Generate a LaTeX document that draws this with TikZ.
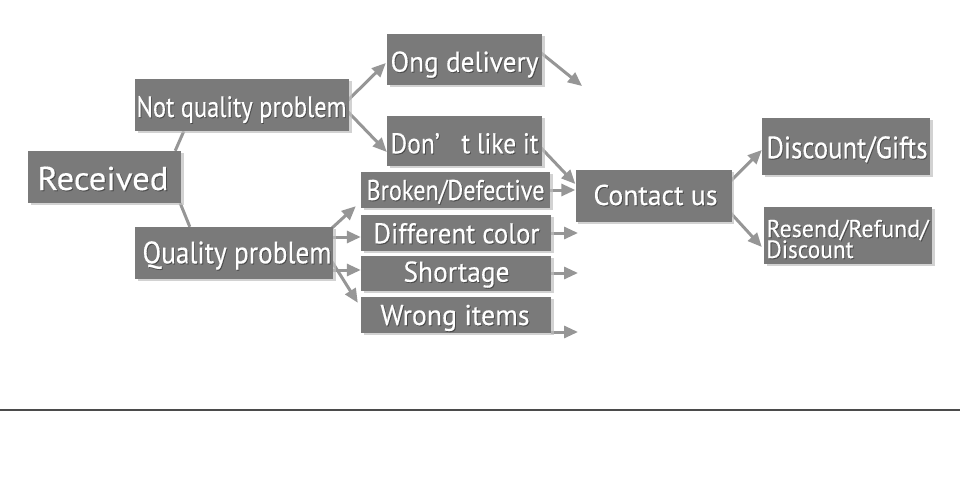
\documentclass[tikz,border=0pt]{standalone}
\usepackage{fontspec}
\setmainfont{PT Sans}[FakeBold=0.35]
\usepackage{graphicx}
\usetikzlibrary{arrows.meta,shadows,calc}
\definecolor{boxgray}{RGB}{122,122,122}
\definecolor{arrgray}{RGB}{150,150,150}
\definecolor{rulegray}{RGB}{75,75,75}
\newcommand\shtxt[2]{\resizebox{#1}{\height}{\makebox[0pt][l]{\kern1pt\raisebox{-1pt}{\textcolor{black!70}{#2}}}\textcolor{white}{#2}}}
\pgfdeclarelayer{back}
\pgfdeclarelayer{bg}
\pgfsetlayers{back,bg,main}
\begin{document}
\begin{tikzpicture}[x=1pt,y=-1pt,
  boxnode/.style={fill=boxgray, inner sep=0pt, draw=none,
    drop shadow={shadow xshift=2.5pt,shadow yshift=-2pt,fill=black!25,opacity=0.7}},
  lbl/.style={anchor=base, inner sep=0pt, outer sep=0pt},
  lblw/.style={anchor=base west, inner sep=0pt, outer sep=0pt},
  arr/.style={draw=arrgray, line width=3pt, -{Triangle[length=14pt,width=12pt]}},
  ln/.style={draw=arrgray, line width=3pt},
  rule/.style={draw=rulegray, line width=1.2pt}]
\useasboundingbox (0,0) rectangle (960,484);
\begin{pgfonlayer}{back}
\fill[white] (0,0) rectangle (960,484);
\end{pgfonlayer}

% boxes
\node[boxnode, minimum width=153pt, minimum height=52pt] (rec) at (104.5,177) {};
\node[boxnode, minimum width=214pt, minimum height=52pt] (nqp) at (242,105) {};
\node[boxnode, minimum width=198pt, minimum height=52pt] (qp) at (234,253) {};
\node[boxnode, minimum width=155pt, minimum height=51pt] (ong) at (464.5,59.5) {};
\node[boxnode, minimum width=155pt, minimum height=50pt] (dont) at (464.5,141) {};
\node[boxnode, minimum width=189pt, minimum height=36pt] (brk) at (455.5,190) {};
\node[boxnode, minimum width=190pt, minimum height=36pt] (diff) at (456,233) {};
\node[boxnode, minimum width=190pt, minimum height=35pt] (short) at (456,273.5) {};
\node[boxnode, minimum width=190pt, minimum height=36pt] (wrong) at (456,315) {};
\node[boxnode, minimum width=156pt, minimum height=52pt] (contact) at (653.5,196) {};
\node[boxnode, minimum width=168pt, minimum height=57pt] (dg) at (846,146.5) {};
\node[boxnode, minimum width=168pt, minimum height=57pt] (rrd) at (848,235.5) {};

% labels
\node[lbl] (trec) at (103,190) {\fontsize{33}{36}\selectfont\shtxt{131pt}{Received}};
\node[lbl] (tnqp) at (241.5,117) {\fontsize{29.5}{32}\selectfont\shtxt{210pt}{Not quality problem}};
\node[lbl] (tqp) at (237,263.3) {\fontsize{31}{34}\selectfont\shtxt{189pt}{Quality problem}};
\node[lbl] (tong) at (464.5,71.7) {\fontsize{28.6}{31}\selectfont\shtxt{148pt}{Ong delivery}};
\node[lbl] (tdont) at (464.5,153.3) {\fontsize{28.6}{31}\selectfont\shtxt{148pt}{Don’\hspace{0.85em}t like it}};
\node[lbl] (tbrk) at (455.5,200) {\fontsize{28.6}{31}\selectfont\shtxt{178pt}{Broken/Defective}};
\node[lbl] (tdiff) at (456.5,243.3) {\fontsize{28.6}{31}\selectfont\shtxt{166pt}{Different color}};
\node[lbl] (tshort) at (456.5,281.7) {\fontsize{28.6}{31}\selectfont\shtxt{106pt}{Shortage}};
\node[lbl] (twrong) at (455,325) {\fontsize{28.6}{31}\selectfont\shtxt{149pt}{Wrong items}};
\node[lbl] (tcontact) at (655.5,205) {\fontsize{28.6}{31}\selectfont\shtxt{124pt}{Contact us}};
\node[lbl] (tdg) at (847,158.3) {\fontsize{31}{34}\selectfont\shtxt{161pt}{Discount/Gifts}};
\node[lblw] (trrd1) at (766.5,237) {\fontsize{24.3}{26}\selectfont\raisebox{0pt}[\height][0pt]{\shtxt{162pt}{Resend/Refund/}}};
\node[lblw] (trrd2) at (766.5,258) {\fontsize{25}{27}\selectfont\raisebox{0pt}[17pt][\depth]{\shtxt{87pt}{Discount}}};

% free ends
\coordinate (ongend) at (582,86);
\coordinate (diffend) at (578,233);
\coordinate (shortend) at (578,273);
\coordinate (wrongend) at (578,332);
\coordinate (qd) at ($(diff.west)+(0,4)$);
\coordinate (qs) at ($(short.west)+(0,-3.5)$);
\coordinate (rulel) at (0,410);
\coordinate (ruler) at (960,410);

\begin{pgfonlayer}{bg}
\draw[ln] ($(rec.north east)+(-6,0)$) -- ($(nqp.south west)+(49,0)$);
\draw[ln] ($(rec.south east)+(-1,0)$) -- ($(qp.north west)+(55,0)$);
\draw[arr] ($(nqp.east)+(-1,-5)$) -- ($(ong.west)+(-1,3.5)$);
\draw[arr] ($(nqp.east)+(-1,7)$) -- ($(dont.west)+(0,11)$);
\draw[arr] ($(ong.east)+(-1,-6.5)$) -- (ongend);
\draw[arr] ($(dont.east)+(-1,7)$) -- ($(contact.west)+(0,-12)$);
\draw[arr] (brk.east) -- (brk.east -| contact.west);
\draw[arr] (diff.east) -- (diffend);
\draw[arr] (short.east |- shortend) -- (shortend);
\draw[arr] (wrong.south east |- wrongend) -- (wrongend);
\draw[arr] ($(qp.north east)+(-1,1)$) -- ($(brk.south west)+(-5,-2)$);
\draw[arr] (qd -| qp.east) -- (qd);
\draw[arr] (qs -| qp.east) -- (qs);
\draw[arr] ($(qp.east)+(-1,9)$) -- ($(wrong.north west)+(-3,6)$);
\draw[arr] ($(contact.east)+(-1,-15)$) -- ($(dg.west)+(0,3.5)$);
\draw[arr] ($(contact.east)+(-1,17)$) -- ($(rrd.west)+(-2,11.5)$);
\end{pgfonlayer}

\draw[rule] (rulel) -- (ruler);
\end{tikzpicture}
\end{document}
